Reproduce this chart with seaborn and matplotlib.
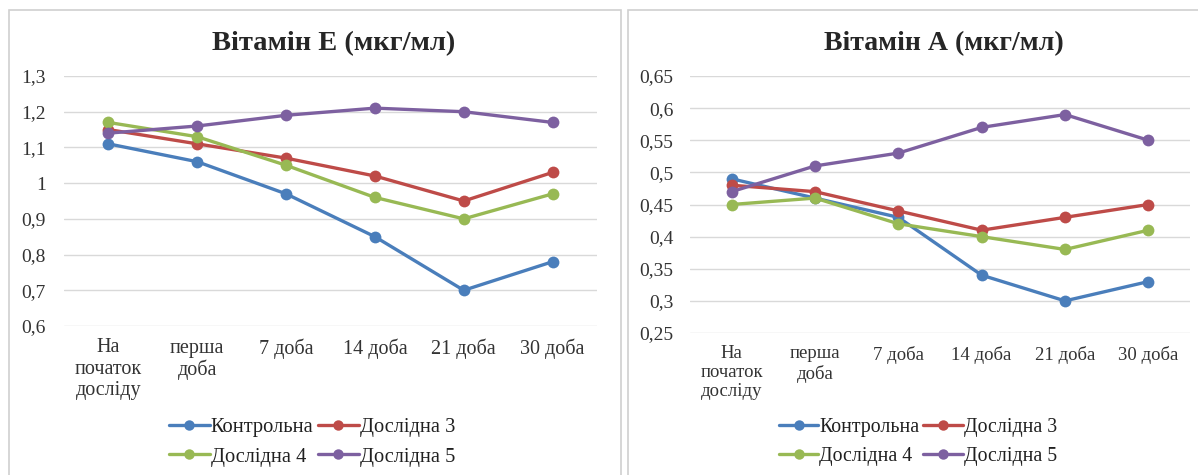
import pandas as pd
import numpy as np
import matplotlib
matplotlib.use("Agg")
import matplotlib.pyplot as plt
import seaborn as sns
from matplotlib.patches import Rectangle

# data
days = ["На\nпочаток\nдосліду", "перша\nдоба", "7 доба", "14 доба", "21 доба", "30 доба"]
groups = ["Контрольна", "Дослідна 3", "Дослідна 4", "Дослідна 5"]

vit_e_control = [1.11, 1.06, 0.97, 0.85, 0.70, 0.78]
vit_e_d3 = [1.15, 1.11, 1.07, 1.02, 0.95, 1.03]
vit_e_d4 = [1.17, 1.13, 1.05, 0.96, 0.90, 0.97]
vit_e_d5 = [1.14, 1.16, 1.19, 1.21, 1.20, 1.17]

vit_a_control = [0.49, 0.46, 0.43, 0.34, 0.30, 0.33]
vit_a_d3 = [0.48, 0.47, 0.44, 0.41, 0.43, 0.45]
vit_a_d4 = [0.45, 0.46, 0.42, 0.40, 0.38, 0.41]
vit_a_d5 = [0.47, 0.51, 0.53, 0.57, 0.59, 0.55]

e_ticks = [0.6, 0.7, 0.8, 0.9, 1.0, 1.1, 1.2, 1.3]
a_ticks = [0.25, 0.3, 0.35, 0.4, 0.45, 0.5, 0.55, 0.6, 0.65]

colors = ["#4A7EBB", "#BE4B48", "#98B954", "#7D60A0"]

def long_df(series):
    rows = []
    for g, vals in zip(groups, series):
        for i, v in enumerate(vals):
            rows.append({"pos": i, "group": g, "value": v})
    return pd.DataFrame(rows)

df_e = long_df([vit_e_control, vit_e_d3, vit_e_d4, vit_e_d5])
df_a = long_df([vit_a_control, vit_a_d3, vit_a_d4, vit_a_d5])

sns.set_style("white")
plt.rcParams["font.family"] = ["Liberation Serif", "DejaVu Serif"]

fig = plt.figure(figsize=(11.98, 4.75), dpi=100)
W, H = 1198, 475

# panel frames
for x0, x1 in [(9, 621), (628, 1205)]:
    fig.patches.append(Rectangle((x0 / W, -0.05), (x1 - x0) / W, 1 - 10 / H + 0.05,
                                 transform=fig.transFigure, fill=False,
                                 edgecolor="#D0D0D0", linewidth=1.2))

def fmt(v):
    return ("%g" % v).replace(".", ",")

def draw(rect, df, ticks, title, legend_x, xfs, lfs, tfs, ypad):
    l, t, r, b = rect
    ax = fig.add_axes([l / W, 1 - b / H, (r - l) / W, (b - t) / H])
    sns.lineplot(data=df, x="pos", y="value", hue="group", palette=colors,
                 marker="o", markersize=8.5, markeredgewidth=0, linewidth=2.4,
                 ax=ax, legend=False)
    ax.set_xlim(-0.5, 5.5)
    ax.set_ylim(ticks[0], ticks[-1])
    ax.set_yticks(ticks)
    ax.set_yticklabels([fmt(v) for v in ticks], fontsize=14, color="#333333")
    ax.set_xticks(range(len(days)))
    ax.set_xticklabels(days, fontsize=xfs, color="#333333", linespacing=1.15)
    ax.tick_params(axis="y", length=0, pad=ypad)
    ax.tick_params(axis="x", length=0, pad=9)
    ax.set_xlabel("")
    ax.set_ylabel("")
    ax.grid(axis="y", color="#D9D9D9", linewidth=1)
    ax.set_axisbelow(True)
    for s in ax.spines.values():
        s.set_visible(False)
    fig.text((l + r) / 2 / W + 0.003, 1 - 44 / H, title, ha="center", va="center",
             fontsize=tfs, fontweight="bold")
    # legend filled row by row: Контрольна, Дослідна 3 / Дослідна 4, Дослідна 5
    order = [0, 2, 1, 3]
    handles = [plt.Line2D([], [], color=colors[i], marker="o", markersize=7.5,
                          markeredgewidth=0, linewidth=2.4) for i in order]
    labels = [groups[i] for i in order]
    leg = fig.legend(handles, labels, loc="center", ncol=2,
                     bbox_to_anchor=(legend_x / W, 1 - 442 / H),
                     frameon=False, fontsize=lfs, handlelength=2.0,
                     handletextpad=0.05, columnspacing=0.2, labelspacing=0.5,
                     borderaxespad=0)
    for txt in leg.get_texts():
        txt.set_color("#202020")
    return ax

draw((64, 76, 597, 326), df_e, e_ticks, "Вітамін Е (мкг/мл)", 312, 14.5, 14.8, 20.5, 13)
draw((690, 76, 1190, 333), df_a, a_ticks, "Вітамін А (мкг/мл)", 918, 13.5, 14.3, 20, 12)

fig.savefig("out.png", dpi=100)
